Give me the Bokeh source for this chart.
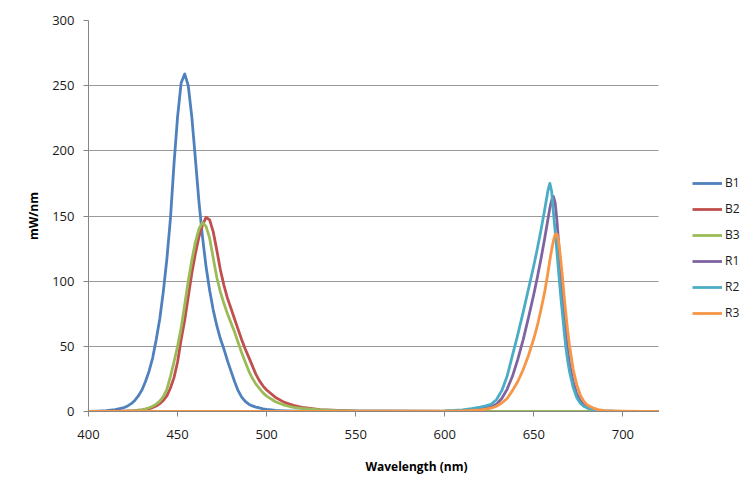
from bokeh.plotting import figure
from bokeh.models import Range1d, Legend, LegendItem, FixedTicker
from bokeh.embed import file_html
from bokeh.resources import INLINE

# ---- data ----
wl_blue = [400, 405, 410, 415,
           420, 422, 424, 426, 428, 430, 432, 434, 436, 438, 440, 442, 444, 446, 448, 450,
           452, 454, 456, 458, 460, 462, 464, 466, 468, 470, 472, 474, 476, 478, 480, 482,
           484, 486, 488, 490, 492, 494, 496, 498, 500,
           505, 510, 515, 520, 530, 540, 550, 600, 650, 700, 720]
b1 = [0, 0.3, 0.7, 1.5,
      3, 4.3, 6, 8.5, 12, 16.5, 23, 31, 41, 55, 71, 92, 117, 148, 190, 226,
      252, 259, 250, 226, 194, 161, 134, 111, 93, 78, 66, 56, 48, 39, 31, 23,
      16, 11, 7.8, 5.6, 4.3, 3.4, 2.7, 2.1, 1.6,
      0.8, 0.5, 0.3, 0.2, 0.1, 0, 0, 0, 0, 0, 0]
b2 = [0, 0, 0.1, 0.2,
      0.3, 0.4, 0.5, 0.7, 1, 1.3, 1.7, 2.2, 3, 4.2, 6, 8.5, 12, 18, 26, 38,
      55, 70, 88, 106, 121, 134, 143, 149, 147, 138, 124, 109, 97, 87, 79, 71,
      63, 55, 48, 41.5, 35, 28.5, 23.5, 19.5, 16.5,
      10.8, 7, 4.7, 3.2, 1.5, 0.8, 0.4, 0.1, 0, 0, 0]
b3 = [0, 0, 0.1, 0.15,
      0.2, 0.3, 0.4, 0.6, 0.9, 1.3, 2, 2.9, 4, 5.7, 8, 11.5, 17, 27, 38, 50,
      64, 82, 100, 116, 130, 140, 145, 142, 133, 118, 103, 92, 83, 75, 68, 61,
      53, 45, 38, 31, 25.5, 21, 17.5, 14.3, 11.8,
      7.5, 4.8, 3.1, 2.3, 1.2, 0.6, 0.3, 0, 0, 0, 0]

wl_red = [400, 500, 600, 605, 610, 615, 620, 623, 626, 629, 632, 635, 638, 641, 644, 647,
          650, 652, 654, 656, 657, 658, 659, 660, 661, 662, 663, 664, 665, 666, 667, 668,
          669, 670, 672, 674, 676, 678, 680, 683, 686, 690, 695, 700, 710, 720]
r1 = [0, 0, 0.3, 0.5, 0.8, 1.3, 2, 2.7, 3.4, 5.5, 10, 17, 27, 40, 55, 72,
      90, 103, 117, 132, 140, 148, 156, 162, 165, 160, 146, 128, 109, 91, 74, 59,
      47, 37, 23, 14, 8.5, 5, 3.2, 1.8, 1, 0.5, 0.2, 0.1, 0, 0]
r2 = [0, 0, 0.5, 0.8, 1.3, 2.2, 3.3, 4.3, 5.5, 9, 16, 27, 43, 59, 76, 94,
      112, 125, 139, 154, 162, 170, 175, 169, 153, 138, 122, 106, 90, 76, 62, 49,
      39, 31, 19, 11, 6.5, 4, 2.6, 1.5, 0.8, 0.4, 0.2, 0.1, 0, 0]
r3 = [0, 0, 0.2, 0.3, 0.5, 0.8, 1.3, 1.8, 2.5, 4, 6.5, 10, 16, 23, 32, 43,
      56, 66, 78, 91, 99, 107, 116, 124, 131, 136, 136, 130, 118, 104, 89, 75,
      62, 51, 33, 21, 13, 8, 5, 2.8, 1.5, 0.7, 0.3, 0.2, 0, 0]

series_names = ["B1", "B2", "B3", "R1", "R2", "R3"]
series_colors = ["#4F81BD", "#C0504D", "#9BBB59", "#8064A2", "#4BACC6", "#F79646"]
series_x = [wl_blue, wl_blue, wl_blue, wl_red, wl_red, wl_red]
series_y = [b1, b2, b3, r1, r2, r3]

x_ticks = [400, 450, 500, 550, 600, 650, 700]
y_ticks = [0, 50, 100, 150, 200, 250, 300]
x_min, x_max = 400, 720
y_min, y_max = 0, 300

FONT = "Open Sans"

# frame spans to the right edge so the legend (drawn inside the frame) is not clipped;
# the data axis itself ends at 720 nm (axis bounds / grid cross bounds)
W, H = 744, 483
left_px, right_px = 88, 0
plot_px = 570  # width of the 400..720 data area
frame_w = W - left_px - right_px
x_end = x_min + (x_max - x_min) * frame_w / plot_px

p = figure(width=W, height=H, output_backend="svg", toolbar_location=None,
           x_range=Range1d(x_min, x_end), y_range=Range1d(y_min, y_max),
           min_border_left=left_px, min_border_right=right_px, min_border_top=20, min_border_bottom=72)
p.outline_line_color = None
p.background_fill_color = "white"
p.border_fill_color = "white"

renderers = []
for xs, ys, c in zip(series_x, series_y, series_colors):
    r = p.line(xs, ys, line_color=c, line_width=2.8, line_join="round")
    renderers.append(r)

# axes
p.xaxis.ticker = FixedTicker(ticks=x_ticks)
p.yaxis.ticker = FixedTicker(ticks=y_ticks)
p.xaxis.bounds = (x_min, x_max)
for ax in (p.xaxis, p.yaxis):
    ax.axis_line_color = "#868686"
    ax.major_tick_line_color = "#868686"
    ax.minor_tick_line_color = None
    ax.major_tick_in = 0
    ax.major_tick_out = 5
    ax.major_label_text_font = FONT
    ax.major_label_text_font_size = "13px"
    ax.major_label_text_color = "#1a1a1a"
    ax.axis_label_text_font = FONT
    ax.axis_label_text_font_size = "12px"
    ax.axis_label_text_font_style = "bold"
    ax.axis_label_text_color = "#000000"
p.xaxis.major_label_standoff = 13
p.yaxis.major_label_standoff = 9
p.xaxis.axis_label = "Wavelength (nm)"
p.yaxis.axis_label = "mW/nm"
p.xaxis.axis_label_standoff = 16
p.yaxis.axis_label_standoff = 7

p.xgrid.grid_line_color = None
p.ygrid.grid_line_color = "#9a9a9a"
p.ygrid.grid_line_width = 1
p.ygrid.cross_bounds = (x_min, x_max)

legend = Legend(items=[LegendItem(label=n, renderers=[r]) for n, r in zip(series_names, renderers)],
                location=(604, 90))
legend.border_line_color = None
legend.background_fill_alpha = 0
legend.padding = 0
legend.margin = 0
legend.spacing = 9
legend.glyph_width = 30
legend.glyph_height = 16
legend.label_height = 16
legend.label_standoff = 3
legend.label_text_font = FONT
legend.label_text_font_size = "12px"
legend.label_text_color = "#1a1a1a"
p.add_layout(legend, "center")

open("out.html", "w").write(file_html(p, INLINE))
